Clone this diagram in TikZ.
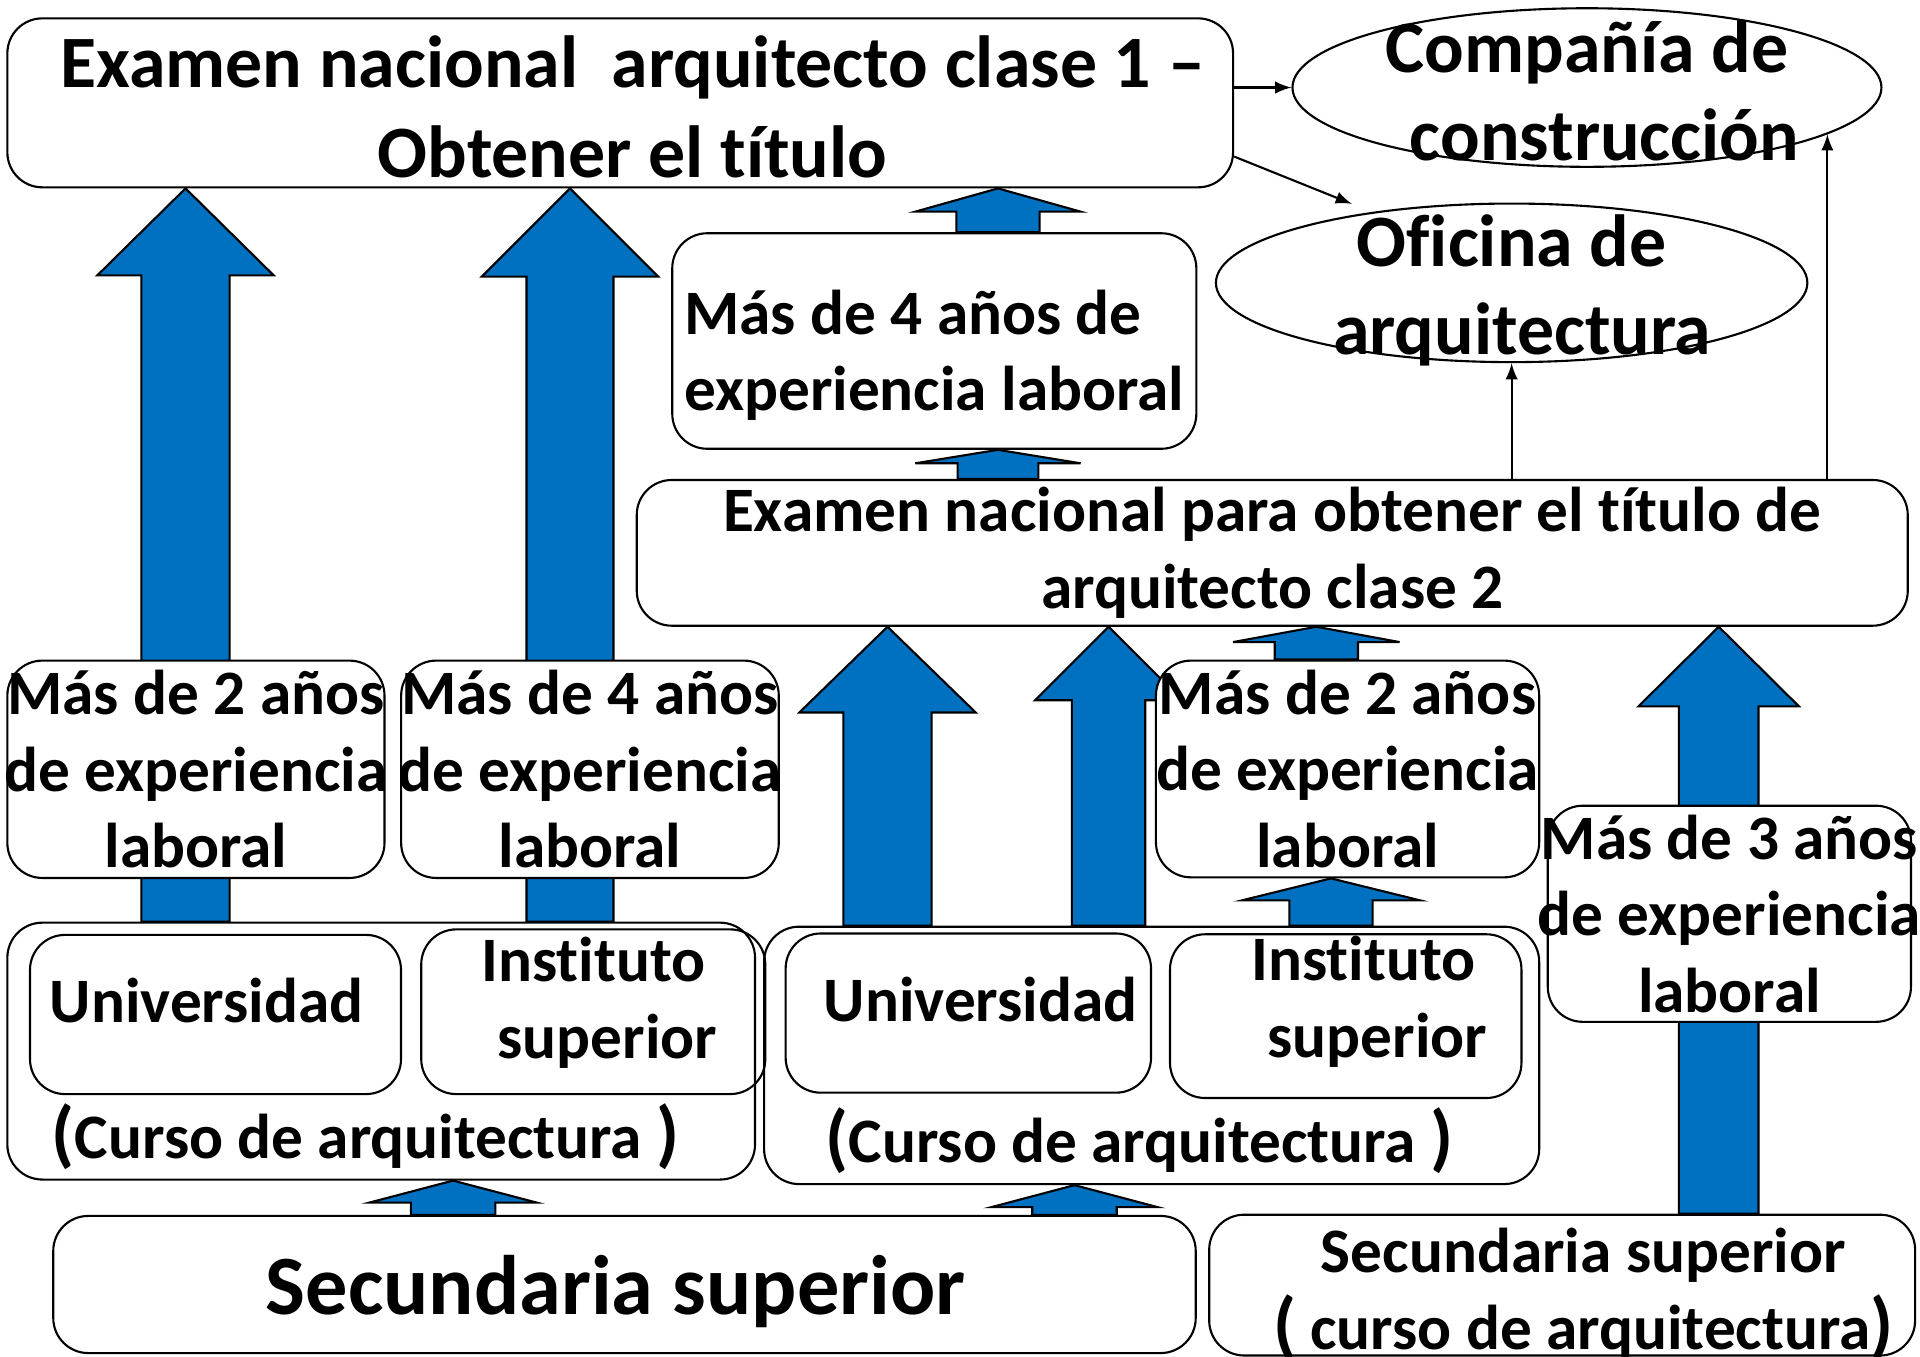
\documentclass[tikz,border=0pt]{standalone}
\usepackage{fontspec}
\setmainfont{Carlito}[Ligatures=NoCommon]
\usetikzlibrary{shapes.geometric,calc}
\pgfdeclarelayer{bg}
\pgfsetlayers{bg,main}
\definecolor{arrowblue}{HTML}{0070C0}
\newcommand{\un}{0.012245cm}
\newcommand{\bigpar}[1]{{\fontsize{21}{21}\selectfont#1}}
\tikzset{
  sz/.style 2 args={minimum width=#1*\un, minimum height=#2*\un},
  box/.style={draw, fill=white, rounded corners=0.35cm, line width=0.6pt, inner xsep=-12pt, inner ysep=-12pt, align=center, font=\bfseries\fontsize{18}{21.8}\selectfont},
  inbox/.style={box, fill=none},
  oval/.style={draw, ellipse, line width=0.6pt, inner sep=-30pt, align=center, font=\bfseries\fontsize{21}{25}\selectfont},
  blockarrow/.style={draw=black, fill=arrowblue, line width=0.6pt},
}
\newcommand{\blockup}[6]{%
  \draw[blockarrow] ($(#1,0 |- #2)+(-#4,0)$) -- ($(#1,0 |- #3)+(-#4,#6)$) -- ($(#1,0 |- #3)+(-#5,#6)$) -- (#1,0 |- #3) -- ($(#1,0 |- #3)+(#5,#6)$) -- ($(#1,0 |- #3)+(#4,#6)$) -- ($(#1,0 |- #2)+(#4,0)$) -- cycle;}
\begin{document}
\begin{tikzpicture}[x=\un, y=-\un, >=latex]
  \useasboundingbox (0,0) rectangle (1568,1108);
  \node[box, sz={1001}{138}, font=\bfseries\fontsize{21}{25.4}\selectfont] (top) at (506.5,84) {\rule{0pt}{17pt}\hspace*{7pt}Examen nacional\ \ arquitecto clase 1 –\\\hspace*{7pt}Obtener el título};
  \node[oval, sz={481}{129.5}] (ell1) at (1296,71.5) {\rule{0pt}{16.5pt}Compañía de\\\hspace*{10pt}construcción};
  \node[oval, sz={483}{129.5}] (ell2) at (1234.5,231) {\rule{0pt}{19pt}Oficina de\\\hspace*{6pt}arquitectura};
  \node[box, sz={428}{176}, align=left] (box4) at (763,278.5) {\rule{0pt}{20.8pt}Más de 4 años de\\experiencia laboral};
  \node[box, sz={1038}{119}] (exam2) at (1039,451.5) {Examen nacional para obtener el título de\\arquitecto clase 2};
  \node[box, sz={308}{177.5}] (mas2a) at (160,628.25) {Más de 2 años\\de experiencia\\laboral};
  \node[box, sz={308.4}{177.5}] (mas4) at (481.8,628.25) {Más de 4 años\\de experiencia\\laboral};
  \node[box, sz={313}{177}] (mas2b) at (1100.5,628) {Más de 2 años\\de experiencia\\laboral};
  \node[box, sz={296.6}{176.5}] (mas3) at (1412.3,746.25) {Más de 3 años\\de experiencia\\laboral};
  \node[box, sz={610.6}{209.8}, text height=66pt, text depth=5pt] (curso1) at (311.3,858.4) {\bigpar{(}Curso de arquitectura \bigpar{)}\hspace*{8.8pt}};
  \node[box, sz={633}{210.2}, text height=66pt, text depth=5pt] (curso2) at (940.5,861.9) {\bigpar{(}Curso de arquitectura \bigpar{)}\hspace*{7pt}};
  \node[inbox, sz={303}{130}, text depth=8pt] (uni1) at (176,828.5) {Universidad\hspace*{5pt}};
  \node[inbox, sz={281}{134.5}] (inst1) at (484.5,826.25) {Instituto\\\hspace*{8pt}superior\rule[-8pt]{0pt}{8pt}};
  \node[inbox, sz={298.4}{130}, text depth=8pt] (uni2) at (790.8,827.35) {\hspace*{7pt}Universidad};
  \node[inbox, sz={287}{133.7}] (inst2) at (1099,829.85) {\hspace*{10pt}Instituto\\\hspace*{18pt}superior\rule[-11pt]{0pt}{11pt}};
  \node[box, sz={933}{112}, font=\bfseries\fontsize{24}{29}\selectfont, text height=21.6pt, text depth=4.8pt] (sec1) at (510,1049) {Secundaria superior\hspace*{5pt}};
  \node[box, sz={576.5}{115}] (sec2) at (1275.75,1049.5) {\rule{0pt}{18pt}\hspace*{12pt}Secundaria superior\\\hspace*{12pt}\bigpar{(} curso de arquitectura\bigpar{)}};
  \coordinate (ofi) at (1104,166.5);
  \begin{pgfonlayer}{bg}
    \fill[white] (0,0) rectangle (1568,1108);
    \foreach \xa/\lo/\hi/\sw/\hw/\hl in {151.5/curso1.north/top.south/36/72/71,
        465.5/curso1.north/top.south/35.5/72/72,
        724.8/curso2.north/exam2.south/36/72/70,
        905.3/curso2.north/exam2.south/30/60/60,
        1403.6/sec2.north/exam2.south/32.5/65.5/65,
        815/box4.north/top.south/34/67.5/19,
        815/exam2.north/box4.south/33/67.5/11,
        1075/mas2b.north/exam2.south/34/68/12.5,
        1087/curso2.north/mas2b.south/34/73/18,
        370/sec1.north/curso1.south/34.5/68.5/18,
        877.5/sec1.north/curso2.south/34.5/68/18}
      {\blockup{\xa}{\lo}{\hi}{\sw}{\hw}{\hl}}
  \end{pgfonlayer}
  \path[->, line width=0.6pt] (top.east |- ell1.west) edge (ell1.west)
        (top.-5.4) edge (ofi)
        (ell2.south |- exam2.north) edge (ell2.south)
        (ell1.-11.4 |- exam2.north) edge (ell1.-11.4);
\end{tikzpicture}
\end{document}
